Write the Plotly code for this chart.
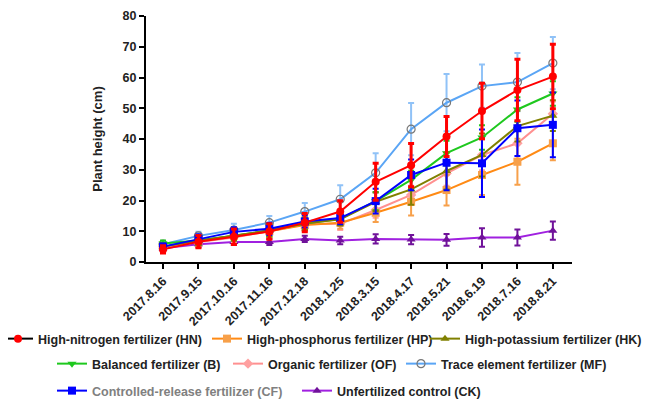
import plotly.graph_objects as go

dates = ["2017.8.16", "2017.9.15", "2017.10.16", "2017.11.16", "2017.12.18", "2018.1.25",
         "2018.3.15", "2018.4.17", "2018.5.21", "2018.6.19", "2018.7.16", "2018.8.21"]

hn = [4.1, 6.6, 8.2, 9.9, 12.8, 16.4, 26.1, 31.5, 40.8, 49.1, 55.9, 60.3]
hn_sd = [1.2, 2.0, 2.5, 2.5, 3.0, 3.5, 6.0, 7.0, 6.5, 9.0, 10.0, 10.5]
hp = [5.0, 6.8, 8.5, 10.0, 12.0, 12.8, 16.0, 19.6, 23.4, 28.3, 32.6, 38.6]
hp_sd = [1.0, 1.5, 1.5, 2.0, 2.0, 2.0, 3.0, 4.5, 5.0, 6.5, 7.5, 5.5]
hk = [5.0, 7.0, 8.5, 10.3, 12.5, 13.9, 19.6, 23.6, 29.6, 34.8, 44.2, 47.6]
hk_sd = [1.0, 1.5, 1.5, 2.0, 2.0, 2.0, 3.0, 5.0, 6.0, 7.0, 5.0, 5.0]
b = [6.0, 7.0, 8.5, 10.3, 12.5, 14.0, 19.8, 26.7, 35.4, 40.5, 49.6, 54.8]
b_sd = [1.0, 1.5, 1.5, 2.0, 2.0, 2.0, 3.0, 3.0, 4.0, 4.0, 4.0, 4.0]
of = [5.0, 6.5, 8.0, 10.0, 12.3, 12.4, 16.9, 21.8, 28.8, 34.8, 38.6, 48.2]
of_sd = [1.0, 1.5, 1.5, 2.0, 2.0, 2.0, 2.5, 3.0, 4.0, 5.0, 5.0, 4.0]
mf = [5.8, 8.5, 10.4, 12.8, 16.4, 20.4, 29.0, 43.2, 51.8, 57.2, 58.5, 64.7]
mf_sd = [1.0, 1.3, 2.0, 2.2, 2.8, 4.6, 6.4, 8.5, 9.3, 7.0, 9.5, 8.5]
cf = [5.0, 7.5, 9.8, 10.8, 13.2, 14.3, 19.8, 28.3, 32.3, 32.1, 43.5, 44.6]
cf_sd = [1.0, 1.5, 1.5, 2.0, 2.0, 2.0, 4.0, 5.0, 9.0, 11.0, 9.0, 10.5]
ck = [4.5, 5.8, 6.5, 6.5, 7.5, 7.0, 7.5, 7.3, 7.2, 8.0, 8.0, 10.2]
ck_sd = [1.0, 1.0, 1.0, 1.0, 1.0, 1.2, 1.5, 1.5, 1.9, 3.0, 2.6, 3.0]

series = [
    # name, y, sd, line color, marker color, symbol, errcolor, text color, legend line color
    ("High-nitrogen fertilizer (HN)", hn, hn_sd, "#ff0000", "#ff0000", "circle", "#ff0000", "#222222", "#000000"),
    ("High-phosphorus fertilizer (HP)", hp, hp_sd, "#ff8a14", "#f7a04a", "square", "#f7a04a", "#222222", "#ff8a14"),
    ("High-potassium fertilizer (HK)", hk, hk_sd, "#808000", "#808000", "triangle-up", "#808000", "#222222", "#808000"),
    ("Balanced fertilizer (B)", b, b_sd, "#1ec81e", "#1ec81e", "triangle-down", "#1ec81e", "#222222", "#1ec81e"),
    ("Organic fertilizer (OF)", of, of_sd, "#ff9090", "#ffa0a0", "diamond", "#ffa0a0", "#222222", "#ff9090"),
    ("Trace element fertilizer (MF)", mf, mf_sd, "#5aa5f5", "rgba(0,0,0,0)", "circle-open", "#90c2f7", "#222222", "#5aa5f5"),
    ("Controlled-release fertilizer (CF)", cf, cf_sd, "#0000ff", "#0000ff", "square", "#0000ff", "#808080", "#0000ff"),
    ("Unfertilized control (CK)", ck, ck_sd, "#a020e0", "#70129a", "triangle-up", "#70129a", "#222222", "#a020e0"),
]

# page offset of the figure inside the browser window (body margin)
OFF = 8
# legend text start (px) and row center (px), window coordinates
legend_pos = [(38, 339), (247, 339), (472, 339),
              (92, 364), (268, 364), (441, 364),
              (92, 391), (337, 391)]
# the last entry of row 1 is anchored at its right end (window px)
right_anchored = {2: 647}

L, R, T, B = 146 - OFF, 572 - OFF, 16 - OFF, 262 - OFF
W, H = 651 - OFF, 401 - OFF
FONT = "Arial, Liberation Sans, sans-serif"

fig = go.Figure()

draw_order = [5, 7, 4, 1, 3, 2, 6, 0]
for i in draw_order:
    name, y, sd, lc, mc, sym, ec, tc, llc = series[i]
    if sym == "circle-open":
        marker = dict(symbol="circle-open", size=8, color="#777777", line=dict(width=1.2, color="#777777"))
    else:
        marker = dict(symbol=sym, size=8, color=mc, line=dict(width=0))
    fig.add_trace(go.Scatter(
        x=dates, y=y, mode="lines+markers", name=name, showlegend=False,
        line=dict(color=lc, width=2),
        marker=marker,
        error_y=dict(type="data", array=sd, visible=True, color=ec,
                     thickness=3 if i == 0 else 2, width=3),
    ))

for i, (name, y, sd, lc, mc, sym, ec, tc, llc) in enumerate(series):
    tx, ty = legend_pos[i]
    tx -= OFF
    ty -= OFF
    lid = "legend" if i == 0 else f"legend{i + 1}"
    if sym == "circle-open":
        marker = dict(symbol="circle-open", size=8, color="#777777", line=dict(width=1.2, color="#777777"))
    else:
        marker = dict(symbol=sym, size=8, color=mc, line=dict(width=0))
    fig.add_trace(go.Scatter(
        x=[None], y=[None], mode="lines+markers",
        name=f"<b><span style='color:{tc}'>{name}</span></b>",
        showlegend=True, legend=lid,
        line=dict(color=llc, width=2), marker=marker,
    ))
    if i in right_anchored:
        lx = (right_anchored[i] - OFF - L) / (R - L)
        xa = "right"
    else:
        lx = (tx - 40 - L) / (R - L)
        xa = "left"
    fig.update_layout(**{lid: dict(
        x=lx, y=(B - ty) / (B - T),
        xanchor=xa, yanchor="middle",
        bgcolor="rgba(0,0,0,0)", borderwidth=0,
        font=dict(family=FONT, size=12.5, color=tc, weight="bold"),
        itemwidth=30, orientation="h",
    )})

fig.update_layout(
    width=W, height=H,
    margin=dict(l=L, r=W - R, t=T, b=H - B, pad=0, autoexpand=False),
    paper_bgcolor="white", plot_bgcolor="white",
    font=dict(family=FONT, color="#222222"),
    xaxis=dict(
        type="category", categoryorder="array", categoryarray=dates,
        range=[-0.48, 11.54], showgrid=False, zeroline=False,
        showline=True, linecolor="black", linewidth=2,
        ticks="outside", ticklen=5, tickwidth=1.5, tickcolor="black",
        tickangle=-45, tickfont=dict(size=12.5, family=FONT, color="#222222", weight="bold"),
    ),
    yaxis=dict(
        range=[0, 80], tickvals=[0, 10, 20, 30, 40, 50, 60, 70, 80],
        showgrid=False, zeroline=False,
        showline=True, linecolor="black", linewidth=2,
        ticks="outside", ticklen=5, tickwidth=1.5, tickcolor="black",
        tickfont=dict(size=12.5, family=FONT, color="#222222", weight="bold"),
        title=dict(text="<b>Plant height (cm)</b>", font=dict(size=13, color="#222222"), standoff=17),
    ),
)

fig.write_html("out.html")
